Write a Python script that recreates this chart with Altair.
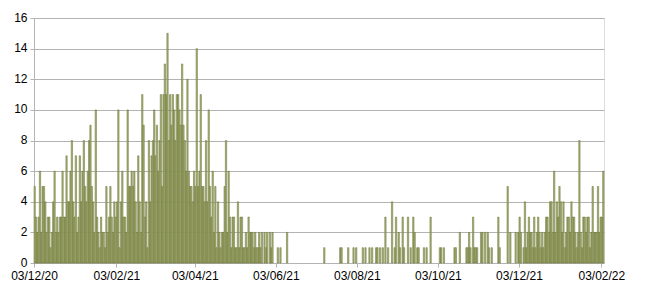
import altair as alt
import pandas as pd

# Daily counts, split by the two-month periods between the axis labels (dates dd/mm/yy)
start_date = "2020-12-03"
counts_dec20_jan21 = [5,3,2,3,6,2,5,5,4,2,3,3,1,2,4,6,2,3,2,3,3,6,3,3,7,4,4,6,8,4,3,7,2,
                      3,7,4,6,8,5,4,6,8,9,5,4,2,10,3,2,1,3,2,2,1,5,2,3,5,3,2,4,3]
counts_feb_mar21 = [4,10,1,4,6,3,3,2,
                    10,5,5,6,5,6,4,2,7,4,2,11,9,3,4,1,8,4,7,8,10,7,9,6,8,11,5,11,13,11,15,8,11,9,11,10,8,
                    11,11,10,9,13,9,8,6,12,6,5,5,4,6]
counts_apr_may21 = [5,14,5,6,11,5,5,4,8,4,10,5,3,6,2,5,1,4,2,1,2,2,
                    5,8,2,6,3,1,3,3,1,1,4,1,3,3,1,1,2,1,3,2,2,2,1,2,1,1,2,1,2,0,2,1,2,0,2,1,2,0,
                    0]
counts_jun_jul21 = [0,1,0,1,0,0,0,0,2,
                    0,0,0,0,0,0,0,0,0,0,0,0,0,0,0,0,0,0,0,0,0,0,0,0,0,0,0,
                    1,0,0,0,0,0,0,0,0,0,0,0,1,1,0,0,0,0,1,0,0,0,1,0,1]
counts_aug_sep21 = [0,0,0,0,1,0,1,0,0,1, 0,1,0,0,1,1,0,1,0,1, 0,3,0,1,0,0,4,0,1,3,
                    0,2,1,0,3,1,0,0,3,0, 1,0,3,2,0,1,1,0,0,0, 1,0,1,0,0,3,0,0,0,0, 0]
counts_oct_nov21 = [0,1,1,0,1,0,0,0,0,0, 0,0,1,1,0,0,2,0,0,0, 0,1,1,2,1,0,3,1,1,1,
                    0,0,2,2,0,2,0,2,1,0, 1,0,0,0,0,3,1,0,0,0, 0,0,5,0,2,0,0,0,2,0, 2]
counts_dec21_jan22 = [3,2,0,1,4,1,2,3,2,2, 1,3,1,2,3,2,1,2,1,2, 3,3,2,4,4,2,6,2,4,3,
                      5,4,2,4,1,2,3,3,2,4, 3,3,2,1,2,8,2,1,3,3, 2,3,3,1,2,5,2,2,2,5, 2,3]
counts_feb22 = [3,6]

tick_dates = ["2020-12-03", "2021-02-03", "2021-04-03", "2021-06-03",
              "2021-08-03", "2021-10-03", "2021-12-03", "2022-02-03"]
y_ticks = [0, 2, 4, 6, 8, 10, 12, 14, 16]

counts = (counts_dec20_jan21 + counts_feb_mar21 + counts_apr_may21 + counts_jun_jul21
          + counts_aug_sep21 + counts_oct_nov21 + counts_dec21_jan22 + counts_feb22)
dates = pd.date_range(start_date, periods=len(counts), freq="D")
df = pd.DataFrame({
    "date": dates.strftime("%Y-%m-%dT00:00:00"),
    "end": (dates + pd.Timedelta(days=1)).strftime("%Y-%m-%dT00:00:00"),
    "count": counts,
})

def dt(s):
    y, m, d = (int(v) for v in s.split("-"))
    return alt.DateTime(year=y, month=m, date=d)

FONT = "Liberation Sans"
GRID = "#b3b3b3"

chart = alt.Chart(df).transform_filter(
    alt.datum.count > 0
).mark_bar(
    fill="#adb57e", stroke="#636d2b", strokeWidth=0.5
).encode(
    x=alt.X("date:T",
            scale=alt.Scale(domain=[dt("2020-12-03"), dt("2022-02-05")], nice=False),
            axis=alt.Axis(values=[dt(s) for s in tick_dates], format="%d/%m/%y",
                          title=None, grid=False, labelFont=FONT, labelFontSize=12,
                          labelColor="#000000", domainColor=GRID, tickColor=GRID,
                          tickSize=4, labelPadding=3, labelFlush=False)),
    x2="end:T",
    y=alt.Y("count:Q",
            scale=alt.Scale(domain=[0, 16], nice=False),
            axis=alt.Axis(values=y_ticks, title=None, grid=True, gridColor=GRID,
                          labelFont=FONT, labelFontSize=12, labelColor="#000000",
                          domainColor=GRID, tickColor=GRID, tickSize=4, labelPadding=3,
                          labelOffset=-1)),
    y2=alt.datum(0),
).properties(
    width=570, height=245,
    autosize=alt.AutoSizeParams(type="none"),
    padding={"left": 34, "top": 18, "right": 46, "bottom": 41},
).configure_view(stroke=GRID, strokeWidth=1).configure(background="white")

chart.save("out.html", embed_options={"renderer": "svg", "actions": False})
